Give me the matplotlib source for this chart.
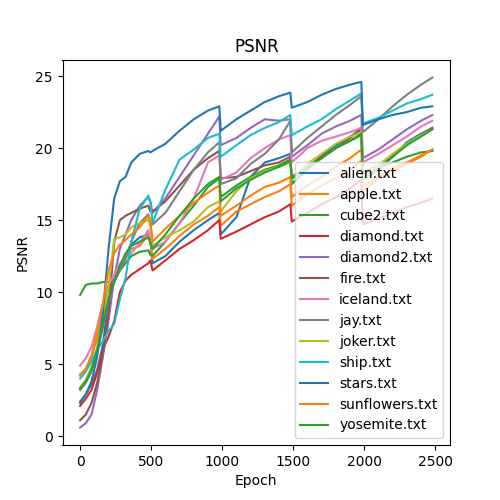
import matplotlib
matplotlib.use("Agg")
import matplotlib.pyplot as plt

epochs = [0,40,80,120,160,200,240,280,320,360,420,480,495,510,600,700,800,900,980,990,
          1100,1200,1300,1400,1480,1490,1600,1700,1800,1900,1980,1990,2100,2200,2300,2400,2480]

alien = [2.4,2.9,3.6,4.6,6.3,9.5,11.0,11.8,12.5,13.3,13.8,14.0,13.5,12.0,12.5,13.5,14.3,15.0,15.5,14.0,
         15.2,18.0,19.0,19.3,19.6,17.5,18.5,19.5,20.2,20.8,21.3,17.8,18.5,19.4,20.4,21.0,21.4]
apple = [4.3,4.6,5.5,6.8,8.5,10.2,11.0,11.8,12.5,13.0,13.2,14.0,13.5,12.3,13.0,13.9,14.7,15.3,15.9,14.6,
         15.6,16.1,16.6,17.0,17.5,16.0,16.8,17.4,17.9,18.5,19.1,17.0,17.9,18.4,18.9,19.4,19.9]
cube2 = [9.8,10.5,10.6,10.6,10.7,10.7,10.8,11.5,12.0,12.5,12.8,12.9,12.6,12.5,13.5,14.8,16.0,17.3,17.9,16.6,
         17.4,18.0,18.5,18.8,19.2,17.5,18.6,19.3,20.0,20.5,20.9,18.2,18.6,19.0,19.4,19.7,19.8]
diamond = [2.1,2.6,3.2,4.4,6.0,6.9,8.0,10.0,10.8,11.2,11.6,12.0,12.2,11.5,12.2,13.0,13.6,14.3,15.0,13.7,
           14.2,14.7,15.2,15.6,16.1,14.9,15.5,16.1,16.6,17.2,17.8,14.7,15.1,15.5,15.9,16.2,16.5]
diamond2 = [0.6,0.9,1.5,3.2,5.5,8.0,11.0,13.0,14.0,15.0,16.0,16.6,16.3,15.5,16.5,18.0,19.5,21.0,22.2,20.2,
            20.7,21.4,22.0,21.9,22.0,19.4,20.2,21.0,21.5,21.9,22.3,19.3,19.9,20.6,21.3,21.9,22.3]
fire = [1.1,1.5,2.3,3.7,5.7,8.5,13.5,15.0,15.3,15.5,15.8,16.0,15.6,15.6,16.3,17.4,18.5,19.3,19.8,17.9,
        18.0,18.4,18.8,19.0,19.4,18.0,18.7,19.4,20.0,20.7,21.4,18.3,18.8,19.4,20.3,20.9,21.4]
iceland = [4.9,5.4,6.2,7.6,9.2,10.5,11.2,12.0,12.4,12.7,13.4,14.3,13.5,13.0,13.5,14.8,16.5,19.0,19.5,17.8,
           18.3,19.3,20.0,20.6,20.9,19.0,20.0,20.5,20.8,21.1,21.4,19.0,19.6,20.2,20.8,21.5,21.9]
jay = [3.2,3.7,4.5,5.8,7.5,9.5,10.7,11.5,12.3,13.5,14.8,15.4,14.8,14.7,15.5,17.0,18.5,19.7,20.4,17.5,
       17.9,18.9,19.6,20.6,21.9,19.7,20.7,21.5,22.3,23.0,23.6,21.1,22.0,22.9,23.7,24.4,24.9]
joker = [3.4,3.9,4.8,6.2,8.3,10.3,13.7,13.8,14.0,14.5,14.8,15.0,14.6,13.2,13.8,14.3,14.9,15.9,16.3,15.6,
         17.0,17.9,18.4,18.7,19.0,17.8,18.9,19.6,20.3,20.8,21.1,18.1,18.8,19.6,20.3,20.9,21.3]
ship = [4.0,4.5,5.2,6.0,6.6,7.3,7.8,9.5,11.0,13.5,15.8,16.7,16.2,14.8,17.1,19.2,19.9,20.7,21.0,19.4,
        20.2,20.9,21.4,21.8,22.3,20.9,21.5,22.0,22.7,23.3,23.8,21.7,22.1,22.6,23.1,23.4,23.7]
stars = [2.3,2.9,3.8,5.5,8.5,13.0,16.5,17.7,18.0,19.0,19.6,19.8,19.7,19.8,20.3,21.2,22.0,22.6,22.9,21.2,
         22.0,22.6,23.2,23.6,23.85,22.8,23.2,23.7,24.1,24.4,24.6,21.6,22.0,22.3,22.5,22.8,22.9]
sunflowers = [4.2,4.7,5.6,7.2,9.2,11.5,12.7,13.3,13.6,14.0,14.5,15.3,15.0,13.5,14.4,15.3,16.2,16.9,17.4,15.3,
              16.0,16.7,17.3,17.6,18.0,16.6,17.4,18.0,18.7,19.3,19.9,17.3,18.0,18.6,19.0,19.5,19.9]
yosemite = [3.3,3.8,4.6,6.0,7.8,9.5,10.7,11.8,12.7,13.2,13.5,13.8,13.4,13.0,14.0,15.3,16.5,17.5,18.0,16.3,
            17.2,17.8,18.3,18.7,19.1,17.9,18.6,19.3,20.0,20.5,21.0,17.9,18.6,19.4,20.2,20.8,21.3]

labels = ["alien.txt","apple.txt","cube2.txt","diamond.txt","diamond2.txt","fire.txt","iceland.txt",
          "jay.txt","joker.txt","ship.txt","stars.txt","sunflowers.txt","yosemite.txt"]
series = [alien,apple,cube2,diamond,diamond2,fire,iceland,jay,joker,ship,stars,sunflowers,yosemite]

fig, ax = plt.subplots(figsize=(5,5), dpi=100)
for name, vals in zip(labels, series):
    ax.plot(epochs, vals, label=name)
ax.set_title("PSNR")
ax.set_xlabel("Epoch")
ax.set_ylabel("PSNR")
ax.legend(loc="lower right")
fig.savefig("out.png", dpi=100)
